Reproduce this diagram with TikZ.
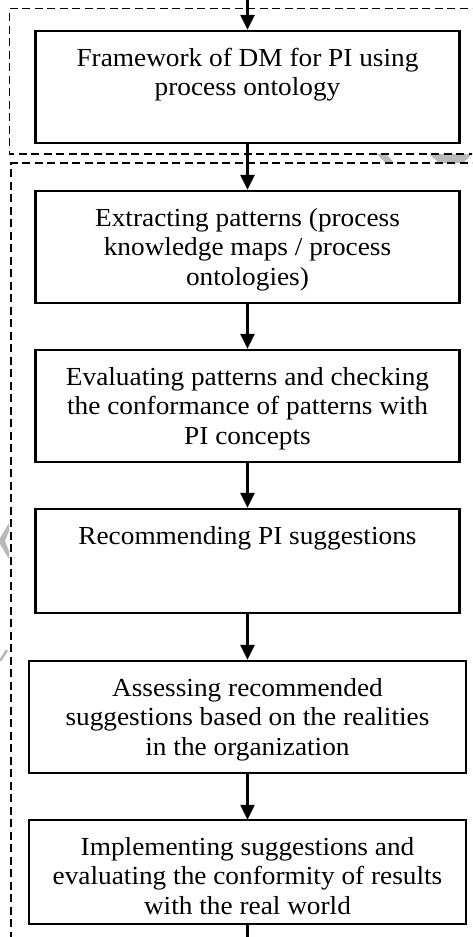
\documentclass[tikz,border=0pt]{standalone}
\usepackage{fontspec}
\setmainfont{Liberation Serif}[FakeStretch=1.05]
\usetikzlibrary{arrows.meta}

\definecolor{fadedgrey}{HTML}{B9B9B9}

% box contents: fixed height and width, text hung from the top
\newcommand{\flowtext}[3]{\parbox[c][#1][t]{#2}{\centering\fontsize{26pt}{29.5pt}\selectfont\rule{0pt}{35pt}#3}}

\tikzset{
  stepbox/.style={draw, rectangle, line width=2.3pt, inner sep=0pt},
  flow/.style={line width=2.3pt, -{Triangle[width=14pt,length=15pt]}},
  group/.style={draw, line width=1.5pt, dash pattern=on 8pt off 4.5pt},
  ghostmark/.style={fill=fadedgrey, draw=none},
}

\begin{document}
\begin{tikzpicture}[x=1pt,y=-1pt]
\useasboundingbox (0,0) rectangle (472,937);
\clip (0,0) rectangle (472,937);

% faint marks behind the frames
\path[ghostmark] (377,154) -- (386,154) -- (394,162.5) -- (385,162.5) -- cycle;
\path[ghostmark] (429,154) -- (472,154) -- (463,163) -- (439,163) -- cycle;
\path[ghostmark] (9,523) -- (9,531) -- (5,541) -- (9,551) -- (9,559) -- (0,544) -- (0,538) -- cycle;
\draw[fadedgrey, line width=2.5pt] (7,650) -- (0,661);

% dashed frames
\draw[group] (480,8.5) -- (9.5,8.5) -- (9.5,154) -- (480,154);
\draw[group] (480,163) -- (11,163) -- (11,945);

% process steps
\node[stepbox] (b1) at (247.5,87)  {\flowtext{112pt}{424pt}{Framework of DM for PI using\\process ontology}};
\node[stepbox] (b2) at (247.5,247) {\flowtext{112pt}{424pt}{Extracting patterns (process\\knowledge maps / process\\ontologies)}};
\node[stepbox] (b3) at (247.5,406) {\flowtext{112pt}{424pt}{Evaluating patterns and checking\\the conformance of patterns with\\PI concepts}};
\node[stepbox] (b4) at (247.5,561) {\flowtext{104pt}{424pt}{Recommending PI suggestions}};
\node[stepbox] (b5) at (247.5,717) {\flowtext{112pt}{437pt}{Assessing recommended\\suggestions based on the realities\\in the organization}};
\begin{scope}
  \clip (29,820) rectangle (466,914);
  \node[inner sep=0pt] (b6) at (247.5,872) {\flowtext{104pt}{437pt}{Implementing suggestions and\\evaluating the conformity of results\\with the real world}};
\end{scope}
\draw[line width=2.3pt] (b6.south west) rectangle (b6.north east);

% connectors
\coordinate (top) at (0,0);
\coordinate (bot) at (0,945);
\draw[flow] (b1.north |- top) -- (b1.north);
\draw[flow] (b1.south) -- (b2.north);
\draw[flow] (b2.south) -- (b3.north);
\draw[flow] (b3.south) -- (b4.north);
\draw[flow] (b4.south) -- (b5.north);
\draw[flow] (b5.south) -- (b6.north);
\draw[line width=2.3pt] (b6.south) -- (b6.south |- bot);
\end{tikzpicture}
\end{document}
